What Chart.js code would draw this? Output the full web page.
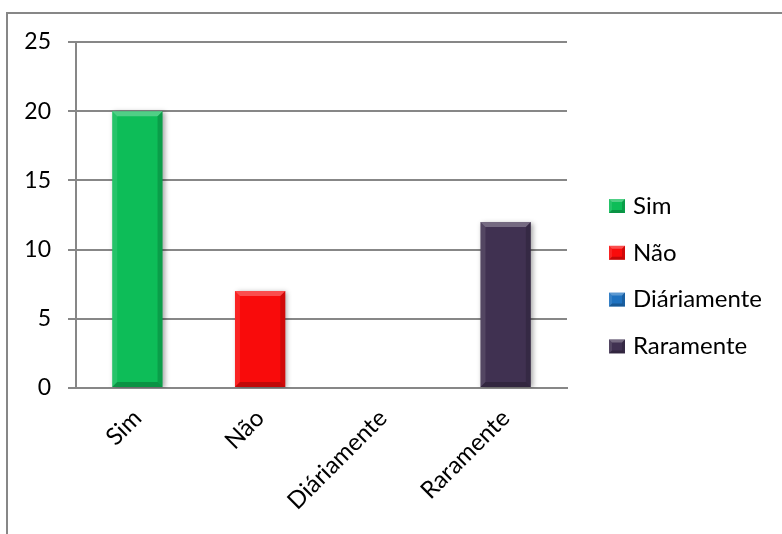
<!DOCTYPE html>
<html>
<head>
<meta charset="utf-8">
<script src="https://cdn.jsdelivr.net/npm/chart.js@4.4.1/dist/chart.umd.min.js"></script>
<style>
  html, body { margin: 0; padding: 0; background: #fff; }
  #wrap { position: relative; width: 782px; height: 534px; overflow: hidden; }
  #frame { position: absolute; left: 6px; top: 12px; width: 800px; height: 600px; border: 2px solid #878787; box-sizing: border-box; }
  #chart { position: absolute; left: 0; top: 0; }
</style>
</head>
<body>
<div id="wrap">
  <div id="frame"></div>
  <canvas id="chart" width="782" height="534"></canvas>
</div>
<script>
// ── Data ────────────────────────────────────────────────────────
const categories = ['Sim', 'Não', 'Diáriamente', 'Raramente'];
const values     = [20, 7, 0, 12];
const yTicks     = [0, 5, 10, 15, 20, 25];
const barColors  = ['#0dbd58', '#f90b0b', '#1f72c0', '#403151'];

const FONT_FAMILY = 'Lato, "Liberation Sans", sans-serif';
const FONT_SIZE   = 24;
const GRID_COLOR  = '#878787';

// Excel-like bevel on a rectangle
function bevel(ctx, left, top, right, bottom, b) {
  ctx.save();
  ctx.fillStyle = 'rgba(255,255,255,0.28)';
  ctx.beginPath();
  ctx.moveTo(left, top); ctx.lineTo(right, top); ctx.lineTo(right - b, top + b); ctx.lineTo(left + b, top + b);
  ctx.closePath(); ctx.fill();
  ctx.fillStyle = 'rgba(255,255,255,0.10)';
  ctx.beginPath();
  ctx.moveTo(left, top); ctx.lineTo(left + b, top + b); ctx.lineTo(left + b, bottom - b); ctx.lineTo(left, bottom);
  ctx.closePath(); ctx.fill();
  ctx.fillStyle = 'rgba(0,0,0,0.16)';
  ctx.beginPath();
  ctx.moveTo(right, top); ctx.lineTo(right - b, top + b); ctx.lineTo(right - b, bottom - b); ctx.lineTo(right, bottom);
  ctx.closePath(); ctx.fill();
  ctx.fillStyle = 'rgba(0,0,0,0.22)';
  ctx.beginPath();
  ctx.moveTo(left, bottom); ctx.lineTo(left + b, bottom - b); ctx.lineTo(right - b, bottom - b); ctx.lineTo(right, bottom);
  ctx.closePath(); ctx.fill();
  ctx.restore();
}

// ── Plugins ─────────────────────────────────────────────────────
const barShadow = {
  id: 'barShadow',
  beforeDatasetsDraw(chart) {
    const ctx = chart.ctx;
    ctx.save();
    ctx.shadowColor = 'rgba(0,0,0,0.35)';
    ctx.shadowBlur = 5;
    ctx.shadowOffsetX = 2;
    ctx.shadowOffsetY = 1;
  },
  afterDatasetsDraw(chart) {
    const ctx = chart.ctx;
    ctx.restore();
    chart.getDatasetMeta(0).data.forEach(bar => {
      const { x, y, base, width } = bar.getProps(['x', 'y', 'base', 'width'], true);
      if (base - y < 1) return;
      bevel(ctx, x - width / 2, y, x + width / 2, base, 5);
    });
  }
};

const sideLegend = {
  id: 'sideLegend',
  afterDraw(chart) {
    const ctx = chart.ctx;
    const x0 = chart.chartArea.right + 42;
    const y0 = 206;
    const rowGap = 46.8;
    ctx.save();
    ctx.font = FONT_SIZE + 'px ' + FONT_FAMILY;
    ctx.textBaseline = 'middle';
    chart.data.labels.forEach((label, i) => {
      const y = y0 + i * rowGap;
      ctx.fillStyle = barColors[i];
      ctx.fillRect(x0, y - 7, 16, 14);
      bevel(ctx, x0, y - 7, x0 + 16, y + 7, 3);
      ctx.fillStyle = '#000';
      ctx.fillText(label, x0 + 24, y);
    });
    ctx.restore();
  }
};

// ── Chart ───────────────────────────────────────────────────────
Chart.defaults.font.family = FONT_FAMILY;
Chart.defaults.font.size = FONT_SIZE;
Chart.defaults.color = '#000';

new Chart(document.getElementById('chart').getContext('2d'), {
  type: 'bar',
  data: {
    labels: categories,
    datasets: [{
      data: values,
      backgroundColor: barColors,
      borderWidth: 0,
      categoryPercentage: 1,
      barPercentage: 0.41,
    }],
  },
  options: {
    responsive: false,
    animation: false,
    devicePixelRatio: 1,
    layout: { padding: { left: 0, right: 215, top: 42, bottom: 0 } },
    plugins: { legend: { display: false }, tooltip: { enabled: false } },
    scales: {
      x: {
        grid: { display: false },
        border: { display: true, color: GRID_COLOR, width: 2 },
        ticks: { minRotation: 45, maxRotation: 45, padding: 8 },
        afterFit: s => { s.height = 146; },
      },
      y: {
        min: 0,
        max: 25,
        afterBuildTicks: s => { s.ticks = yTicks.map(v => ({ value: v })); },
        grid: { color: GRID_COLOR, lineWidth: 2, tickLength: 8 },
        border: { display: true, color: GRID_COLOR, width: 2 },
        ticks: { padding: 17, font: { size: 23 } },
        afterFit: s => { s.width = 76; },
      },
    },
  },
  plugins: [barShadow, sideLegend],
});
</script>
</body>
</html>
